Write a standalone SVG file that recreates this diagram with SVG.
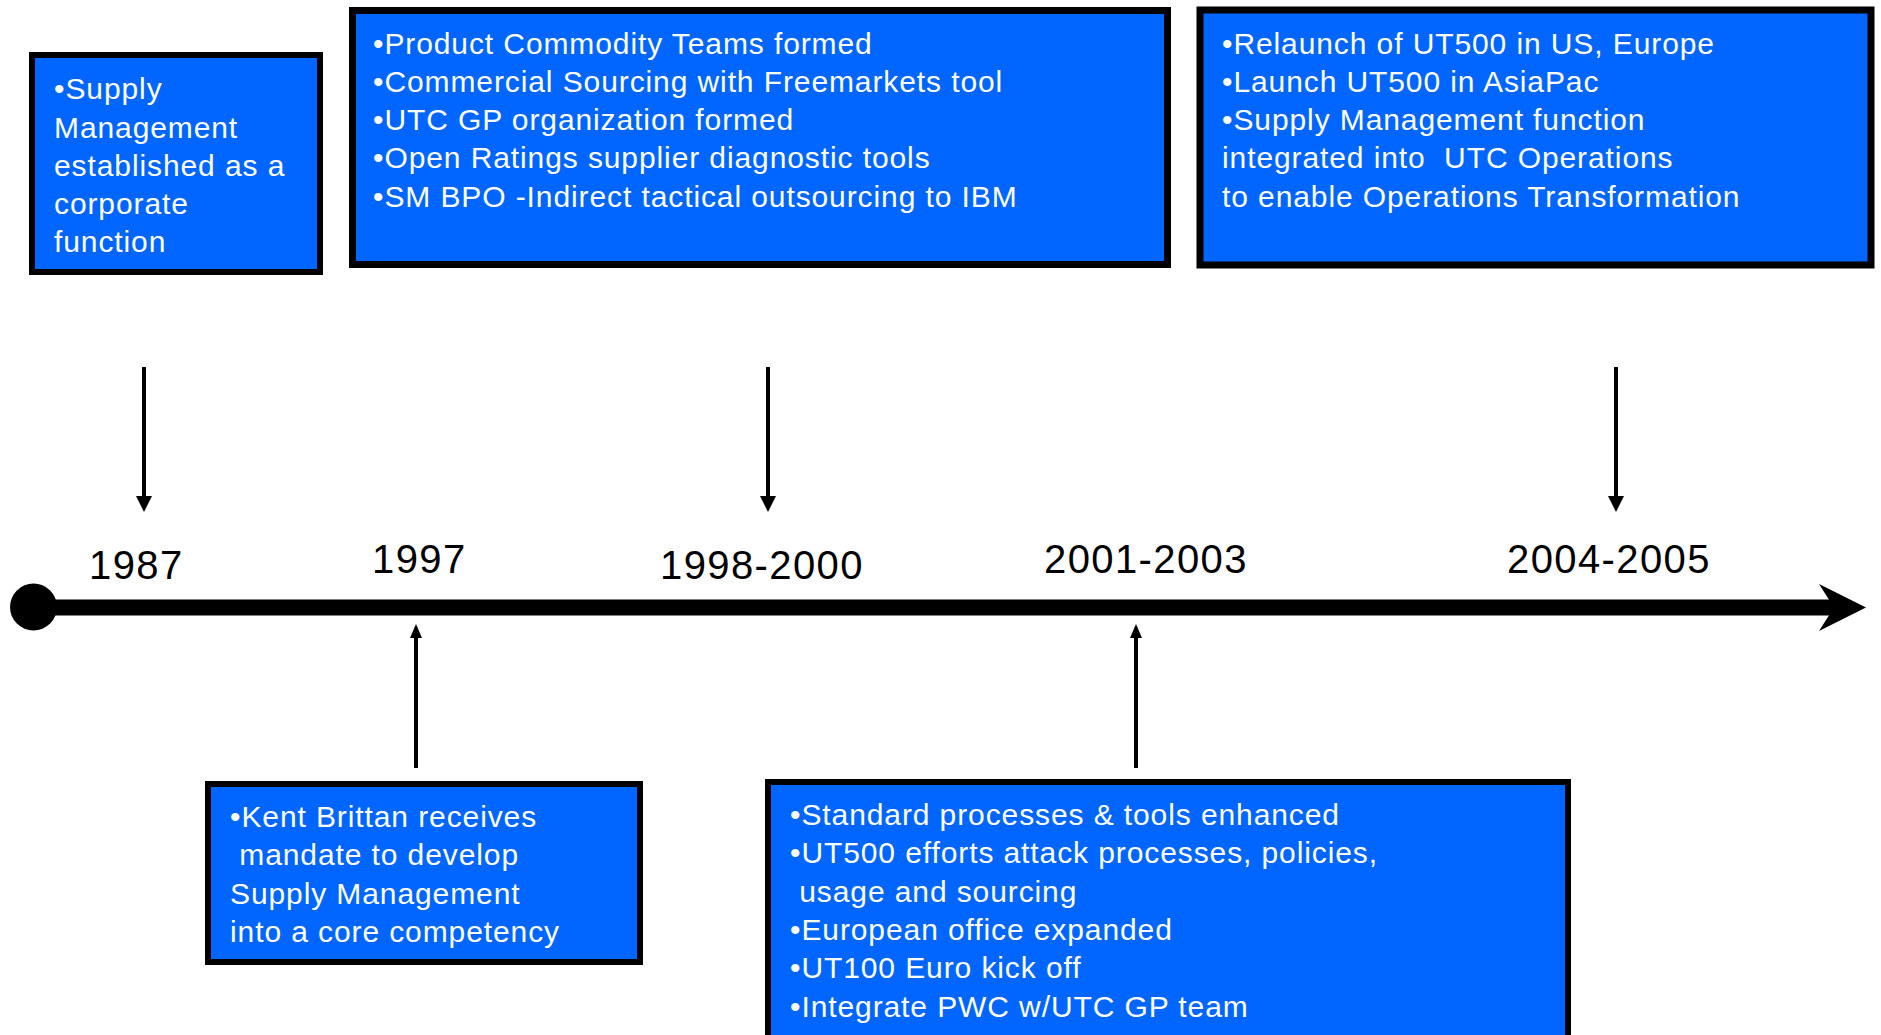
<svg xmlns="http://www.w3.org/2000/svg" width="1881" height="1035" viewBox="0 0 1881 1035">
  <style>
    .box { fill: #0066FF; stroke: #000000; }
    .txt { font-family: "Liberation Sans", Arial, sans-serif; font-size: 30px; fill: #FFFFFF; letter-spacing: 0.9px; white-space: pre; }
    .year { font-family: "Liberation Sans", Arial, sans-serif; font-size: 40px; fill: #000000; letter-spacing: 1.4px; }
    .conn { stroke: #000000; stroke-width: 4; fill: none; }
  </style>
  <defs>
    <marker id="headDown" markerUnits="userSpaceOnUse" markerWidth="16" markerHeight="16" refX="2" refY="8" orient="auto">
      <path d="M0,0 L16,8 L0,16 Z" fill="#000000"/>
    </marker>
    <marker id="headUp" markerUnits="userSpaceOnUse" markerWidth="14" markerHeight="12" refX="2" refY="6" orient="auto">
      <path d="M0,0 L14,6 L0,12 Z" fill="#000000"/>
    </marker>
  </defs>
  <rect x="0" y="0" width="1881" height="1035" fill="#FFFFFF"/>

  <g id="timeline">
    <line x1="34" y1="607.5" x2="1834" y2="607.5" stroke="#000000" stroke-width="16"/>
    <circle cx="33.5" cy="607" r="23.5" fill="#000000"/>
    <polygon points="1819,584 1866,607.5 1819,631 1834,607.5" fill="#000000"/>
  </g>

  <g id="years">
    <text class="year" x="89" y="579">1987</text>
    <text class="year" x="372" y="573">1997</text>
    <text class="year" x="660" y="579">1998-2000</text>
    <text class="year" x="1044" y="573">2001-2003</text>
    <text class="year" x="1507" y="573">2004-2005</text>
  </g>

  <g id="connectors">
    <line class="conn" x1="144" y1="367" x2="144" y2="498" marker-end="url(#headDown)"/>
    <line class="conn" x1="768" y1="367" x2="768" y2="498" marker-end="url(#headDown)"/>
    <line class="conn" x1="1616" y1="367" x2="1616" y2="498" marker-end="url(#headDown)"/>
    <line class="conn" x1="416" y1="768" x2="416" y2="636" marker-end="url(#headUp)"/>
    <line class="conn" x1="1136" y1="768" x2="1136" y2="636" marker-end="url(#headUp)"/>
  </g>

  <g id="node-1987">
    <rect class="box" x="32" y="55" width="288" height="217" stroke-width="6"/>
    <text class="txt" x="54" y="99">•Supply</text>
    <text class="txt" x="54" y="137.5">Management</text>
    <text class="txt" x="54" y="175.5">established as a</text>
    <text class="txt" x="54" y="213.5">corporate</text>
    <text class="txt" x="54" y="251.5">function</text>
  </g>

  <g id="node-1998-2000">
    <rect class="box" x="352.5" y="10.5" width="815" height="254" stroke-width="7"/>
    <text class="txt" x="373" y="54">•Product Commodity Teams formed</text>
    <text class="txt" x="373" y="92">•Commercial Sourcing with Freemarkets tool</text>
    <text class="txt" x="373" y="130">•UTC GP organization formed</text>
    <text class="txt" x="373" y="168">•Open Ratings supplier diagnostic tools</text>
    <text class="txt" x="373" y="207">•SM BPO -Indirect tactical outsourcing to IBM</text>
  </g>

  <g id="node-2004-2005">
    <rect class="box" x="1200" y="10" width="671" height="255" stroke-width="7"/>
    <text class="txt" x="1222" y="54">•Relaunch of UT500 in US, Europe</text>
    <text class="txt" x="1222" y="92">•Launch UT500 in AsiaPac</text>
    <text class="txt" x="1222" y="130">•Supply Management function</text>
    <text class="txt" x="1222" y="168">integrated into  UTC Operations</text>
    <text class="txt" x="1222" y="207">to enable Operations Transformation</text>
  </g>

  <g id="node-1997">
    <rect class="box" x="208" y="784" width="432" height="178" stroke-width="6"/>
    <text class="txt" x="230" y="827">•Kent Brittan receives</text>
    <text class="txt" x="230" y="865"> mandate to develop</text>
    <text class="txt" x="230" y="904">Supply Management</text>
    <text class="txt" x="230" y="942">into a core competency</text>
  </g>

  <g id="node-2001-2003">
    <rect class="box" x="768" y="782" width="800" height="300" stroke-width="6"/>
    <text class="txt" x="790" y="825">•Standard processes &amp; tools enhanced</text>
    <text class="txt" x="790" y="863">•UT500 efforts attack processes, policies,</text>
    <text class="txt" x="790" y="902"> usage and sourcing</text>
    <text class="txt" x="790" y="940">•European office expanded</text>
    <text class="txt" x="790" y="978">•UT100 Euro kick off</text>
    <text class="txt" x="790" y="1017">•Integrate PWC w/UTC GP team</text>
  </g>
</svg>
